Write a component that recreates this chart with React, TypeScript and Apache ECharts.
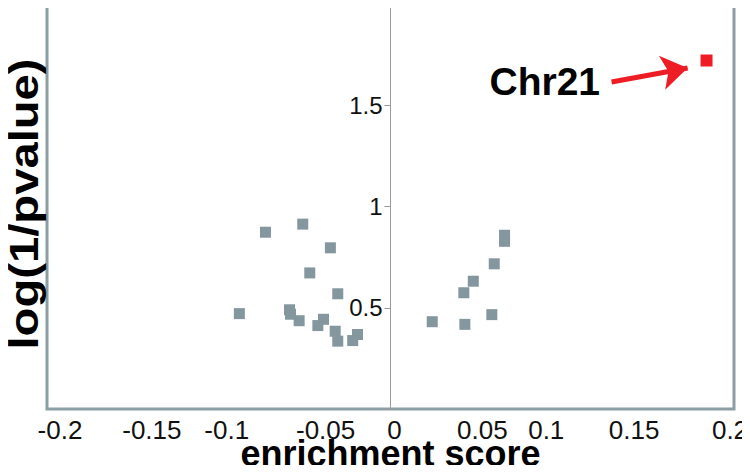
import React, { useEffect, useRef } from "react";
import * as echarts from "echarts";

const xTicks = [-0.2, -0.15, -0.1, -0.05, 0, 0.05, 0.1, 0.15, 0.2];
const yTickLabels = ["0.5", "1", "1.5"];

const otherChr: [number, number][] = [
  [-0.088, 0.471],
  [-0.0728, 0.873],
  [-0.0511, 0.913],
  [-0.035, 0.796],
  [-0.047, 0.672],
  [-0.0307, 0.569],
  [-0.0588, 0.49],
  [-0.0582, 0.468],
  [-0.0532, 0.436],
  [-0.0423, 0.412],
  [-0.039, 0.443],
  [-0.0322, 0.384],
  [-0.0307, 0.335],
  [-0.022, 0.338],
  [-0.0192, 0.368],
  [0.0664, 0.858],
  [0.0664, 0.828],
  [0.0604, 0.717],
  [0.0482, 0.631],
  [0.0427, 0.574],
  [0.0243, 0.431],
  [0.0433, 0.418],
  [0.059, 0.466],
];

const chr21: [number, number][] = [[0.184, 1.721]];
const chr21Label = "Chr21";
const arrowFrom: [number, number] = [0.1287, 1.615];
const arrowTo: [number, number] = [0.173, 1.684];
const labelAnchor: [number, number] = [0.1223, 1.615];

// horizontal nudges (px) of the tick labels as they sit in the reference
const xLabelShift = [13, 19, 8, 21, 4, 6, -16, -14, -4];

export default function App() {
  const ref = useRef<HTMLDivElement>(null);
  useEffect(() => {
    if (!ref.current) return;
    const chart = echarts.init(ref.current, null, { renderer: "svg" });
    const font = "'Liberation Sans', Arial, sans-serif";
    const gridLeft = 47;
    const gridRight = 16;
    const plotW = 750 - gridLeft - gridRight;
    const xMin = xTicks[0];
    const xMax = xTicks[xTicks.length - 1];
    const zeroOffset = ((0 - xMin) / (xMax - xMin)) * plotW;
    const rich: Record<string, any> = {};
    xTicks.forEach((_, i) => {
      const s = xLabelShift[i];
      rich["t" + i] = {
        fontSize: 26,
        lineHeight: 24,
        fontFamily: font,
        color: "#111",
        padding: [0, s < 0 ? -2 * s : 0, 0, s > 0 ? 2 * s : 0],
      };
    });
    chart.setOption({
      animation: false,
      backgroundColor: "#ffffff",
      grid: {
        left: gridLeft,
        right: gridRight,
        top: 4,
        bottom: 64,
        outerBoundsMode: "none",
        containLabel: false,
        show: true,
        borderColor: "#8c9ea4",
        borderWidth: 3,
        backgroundColor: "#ffffff",
      },
      xAxis: {
        type: "value",
        min: xMin,
        max: xMax,
        interval: 0.05,
        axisLine: { show: false },
        axisTick: { show: false },
        splitLine: { show: false },
        axisLabel: {
          color: "#111",
          fontSize: 26,
          lineHeight: 24,
          fontFamily: font,
          margin: 9,
          hideOverlap: false,
          rich,
          formatter: (v: number) => {
            const i = xTicks.findIndex((k) => Math.abs(k - v) < 1e-9);
            return i < 0 ? "" : `{t${i}|${xTicks[i]}}`;
          },
        },
        name: "enrichment score",
        nameLocation: "middle",
        nameGap: 31,
        nameMoveOverlap: false,
        nameTextStyle: {
          color: "#000",
          fontSize: 36,
          lineHeight: 26,
          fontWeight: "bold",
          fontFamily: font,
        },
      },
      yAxis: {
        type: "value",
        min: 0,
        max: 2,
        interval: 0.5,
        offset: -zeroOffset,
        axisLine: { show: true, onZero: false, lineStyle: { color: "#9a9a9a", width: 1 } },
        axisTick: { show: true, length: 6, lineStyle: { color: "#9a9a9a" } },
        splitLine: { show: false },
        axisLabel: {
          color: "#111",
          fontSize: 24,
          fontFamily: font,
          margin: 8,
          formatter: (v: number) => {
            const s = String(Math.round(v * 10) / 10);
            return yTickLabels.includes(s) ? s : "";
          },
        },
      },
      graphic: [
        {
          type: "text",
          x: 23.5,
          y: 204,
          rotation: Math.PI / 2,
          scaleX: 1.18,
          style: {
            text: "log(1/pvalue)",
            font: `bold 40px ${font}`,
            lineHeight: 34,
            fill: "#000",
            textAlign: "center",
            textVerticalAlign: "middle",
          },
        },
      ],
      series: [
        {
          type: "scatter",
          data: otherChr,
          symbol: "rect",
          symbolSize: 11,
          itemStyle: { color: "#84979e", opacity: 1 },
        },
        {
          type: "scatter",
          data: chr21,
          symbol: "rect",
          symbolSize: 12,
          itemStyle: { color: "#ee1c24", opacity: 1 },
          markLine: {
            silent: true,
            symbol: ["none", "arrow"],
            symbolSize: 26,
            label: { show: false },
            lineStyle: { color: "#ee1c24", width: 5, type: "solid", opacity: 1 },
            data: [[{ coord: arrowFrom }, { coord: arrowTo }]],
          },
          markPoint: {
            silent: true,
            symbol: "rect",
            symbolSize: 1,
            itemStyle: { color: "rgba(0,0,0,0)" },
            label: {
              show: true,
              position: "left",
              distance: 0,
              formatter: chr21Label,
              color: "#000",
              fontSize: 39,
              fontWeight: "bold",
              fontFamily: font,
            },
            data: [{ coord: labelAnchor }],
          },
        },
      ],
    });
    return () => chart.dispose();
  }, []);
  return <div ref={ref} style={{ width: 750, height: 473, margin: -8 }} />;
}
